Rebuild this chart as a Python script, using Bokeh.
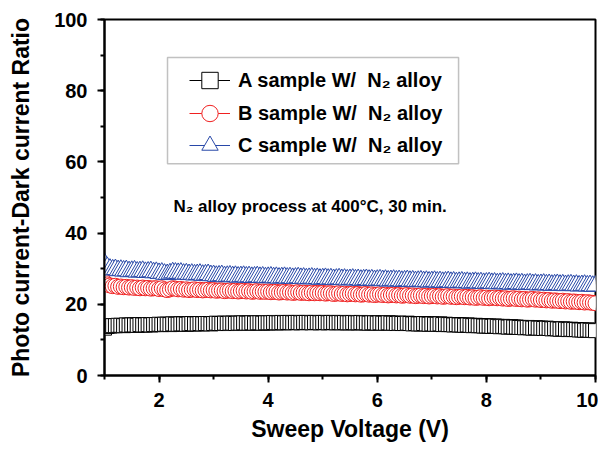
from bokeh.plotting import figure
from bokeh.models import (Range1d, SingleIntervalTicker, Legend, LegendItem,
                          Label, BoxAnnotation)
from bokeh.embed import file_html
from bokeh.resources import INLINE

# ---------------- data ----------------
voltage = [
    1.00, 1.05, 1.10, 1.15, 1.20, 1.25, 1.30, 1.35, 1.40, 1.45, 1.50, 1.55, 1.60, 1.65, 1.70, 1.75, 1.80, 1.85, 1.90, 1.95,
    2.00, 2.05, 2.10, 2.15, 2.20, 2.25, 2.30, 2.35, 2.40, 2.45, 2.50, 2.55, 2.60, 2.65, 2.70, 2.75, 2.80, 2.85, 2.90, 2.95,
    3.00, 3.05, 3.10, 3.15, 3.20, 3.25, 3.30, 3.35, 3.40, 3.45, 3.50, 3.55, 3.60, 3.65, 3.70, 3.75, 3.80, 3.85, 3.90, 3.95,
    4.00, 4.05, 4.10, 4.15, 4.20, 4.25, 4.30, 4.35, 4.40, 4.45, 4.50, 4.55, 4.60, 4.65, 4.70, 4.75, 4.80, 4.85, 4.90, 4.95,
    5.00, 5.05, 5.10, 5.15, 5.20, 5.25, 5.30, 5.35, 5.40, 5.45, 5.50, 5.55, 5.60, 5.65, 5.70, 5.75, 5.80, 5.85, 5.90, 5.95,
    6.00, 6.05, 6.10, 6.15, 6.20, 6.25, 6.30, 6.35, 6.40, 6.45, 6.50, 6.55, 6.60, 6.65, 6.70, 6.75, 6.80, 6.85, 6.90, 6.95,
    7.00, 7.05, 7.10, 7.15, 7.20, 7.25, 7.30, 7.35, 7.40, 7.45, 7.50, 7.55, 7.60, 7.65, 7.70, 7.75, 7.80, 7.85, 7.90, 7.95,
    8.00, 8.05, 8.10, 8.15, 8.20, 8.25, 8.30, 8.35, 8.40, 8.45, 8.50, 8.55, 8.60, 8.65, 8.70, 8.75, 8.80, 8.85, 8.90, 8.95,
    9.00, 9.05, 9.10, 9.15, 9.20, 9.25, 9.30, 9.35, 9.40, 9.45, 9.50, 9.55, 9.60, 9.65, 9.70, 9.75, 9.80, 9.85, 9.90, 9.95,
    10.00,
]

ratio_a = [
    13.3, 13.8, 13.9, 14.0, 14.0, 14.1, 14.1, 14.0, 14.2, 14.1, 14.2, 14.2, 14.1, 14.3, 14.2, 14.2, 14.3, 14.2, 14.3, 14.3,
    14.4, 14.3, 14.4, 14.4, 14.3, 14.5, 14.4, 14.4, 14.5, 14.5, 14.4, 14.5, 14.6, 14.5, 14.5, 14.6, 14.5, 14.6, 14.6, 14.5,
    14.6, 14.7, 14.6, 14.6, 14.7, 14.6, 14.7, 14.7, 14.6, 14.7, 14.7, 14.8, 14.7, 14.7, 14.8, 14.7, 14.8, 14.8, 14.7, 14.8,
    14.8, 14.8, 14.9, 14.8, 14.8, 14.9, 14.8, 14.9, 14.9, 14.8, 14.9, 14.9, 14.8, 14.9, 14.9, 14.9, 14.8, 14.9, 14.9, 14.8,
    14.9, 14.9, 14.8, 14.9, 14.9, 14.8, 14.9, 14.8, 14.9, 14.8, 14.8, 14.9, 14.8, 14.8, 14.9, 14.8, 14.8, 14.7, 14.8, 14.8,
    14.7, 14.8, 14.7, 14.7, 14.8, 14.7, 14.7, 14.6, 14.7, 14.6, 14.6, 14.7, 14.6, 14.5, 14.6, 14.5, 14.5, 14.6, 14.5, 14.4,
    14.5, 14.4, 14.4, 14.5, 14.3, 14.4, 14.3, 14.3, 14.2, 14.3, 14.2, 14.2, 14.1, 14.2, 14.1, 14.0, 14.1, 14.0, 14.0, 13.9,
    13.9, 13.9, 13.8, 13.9, 13.8, 13.7, 13.8, 13.7, 13.6, 13.7, 13.6, 13.6, 13.5, 13.5, 13.4, 13.5, 13.4, 13.3, 13.4, 13.3,
    13.3, 13.2, 13.3, 13.2, 13.1, 13.2, 13.1, 13.0, 13.1, 13.0, 12.9, 13.0, 12.9, 12.9, 12.8, 12.8, 12.7, 12.8, 12.7, 12.7,
    12.6,
]

ratio_b = [
    26.3, 25.6, 25.3, 25.1, 25.2, 24.9, 25.0, 24.8, 24.9, 24.7, 24.8, 24.6, 24.7, 24.5, 24.7, 24.5, 24.6, 24.4, 24.5, 24.5,
    24.3, 24.5, 24.2, 24.0, 24.2, 24.5, 24.4, 24.2, 24.3, 24.1, 24.2, 24.0, 24.1, 24.2, 24.0, 24.1, 23.9, 24.0, 24.1, 23.9,
    24.0, 23.8, 23.9, 23.9, 23.7, 23.8, 23.9, 23.7, 23.8, 23.6, 23.7, 23.8, 23.6, 23.7, 23.5, 23.6, 23.7, 23.5, 23.6, 23.5,
    23.6, 23.4, 23.5, 23.5, 23.3, 23.4, 23.5, 23.3, 23.4, 23.2, 23.3, 23.4, 23.2, 23.3, 23.2, 23.1, 23.3, 23.1, 23.2, 23.1,
    23.2, 23.0, 23.1, 23.1, 22.9, 23.0, 23.1, 22.9, 23.0, 22.8, 22.9, 23.0, 22.8, 22.9, 22.7, 22.8, 22.9, 22.7, 22.8, 22.6,
    22.7, 22.8, 22.6, 22.7, 22.5, 22.6, 22.7, 22.5, 22.6, 22.4, 22.5, 22.6, 22.4, 22.5, 22.3, 22.4, 22.5, 22.3, 22.4, 22.2,
    22.3, 22.4, 22.2, 22.3, 22.1, 22.2, 22.3, 22.1, 22.2, 22.0, 22.1, 22.2, 22.0, 22.1, 21.9, 22.0, 21.8, 21.9, 22.0, 21.8,
    21.9, 21.7, 21.8, 21.9, 21.7, 21.8, 21.6, 21.7, 21.5, 21.6, 21.7, 21.5, 21.6, 21.4, 21.5, 21.3, 21.4, 21.5, 21.3, 21.4,
    21.2, 21.3, 21.1, 21.2, 21.0, 21.1, 21.0, 20.9, 21.0, 20.8, 20.9, 20.7, 20.8, 20.7, 20.6, 20.7, 20.5, 20.6, 20.5, 20.4,
    20.3,
]

ratio_c = [
    31.5, 30.4, 29.9, 29.7, 29.8, 29.5, 29.6, 29.4, 29.5, 29.2, 29.3, 29.4, 29.1, 29.2, 29.3, 29.0, 29.1, 29.2, 28.9, 29.0,
    28.7, 28.8, 28.5, 28.4, 28.6, 28.9, 28.8, 28.7, 28.8, 28.5, 28.6, 28.4, 28.5, 28.3, 28.4, 28.5, 28.2, 28.3, 28.4, 28.1,
    28.1, 27.9, 28.0, 28.1, 27.8, 27.9, 28.0, 27.8, 27.9, 27.7, 27.8, 27.9, 27.7, 27.8, 27.6, 27.7, 27.8, 27.6, 27.7, 27.5,
    27.6, 27.7, 27.5, 27.6, 27.4, 27.5, 27.6, 27.4, 27.5, 27.3, 27.4, 27.5, 27.3, 27.4, 27.2, 27.3, 27.4, 27.2, 27.3, 27.1,
    27.2, 27.3, 27.1, 27.2, 27.0, 27.1, 27.2, 27.0, 27.1, 26.9, 27.0, 27.1, 26.9, 27.0, 26.8, 26.9, 27.0, 26.8, 26.9, 26.7,
    26.8, 26.9, 26.7, 26.8, 26.6, 26.7, 26.8, 26.6, 26.7, 26.5, 26.6, 26.7, 26.5, 26.6, 26.4, 26.5, 26.6, 26.4, 26.5, 26.3,
    26.4, 26.5, 26.3, 26.4, 26.2, 26.3, 26.4, 26.2, 26.3, 26.1, 26.2, 26.3, 26.1, 26.2, 26.0, 26.1, 26.2, 26.0, 26.1, 25.9,
    26.0, 26.1, 25.9, 26.0, 25.8, 25.9, 26.0, 25.8, 25.9, 25.7, 25.8, 25.9, 25.7, 25.8, 25.6, 25.7, 25.8, 25.6, 25.7, 25.5,
    25.6, 25.7, 25.5, 25.6, 25.4, 25.5, 25.6, 25.4, 25.5, 25.3, 25.4, 25.5, 25.3, 25.4, 25.2, 25.3, 25.4, 25.2, 25.3, 25.1,
    25.2,
]

series_labels = ["A sample W/  N\u2082 alloy",
                 "B sample W/  N\u2082 alloy",
                 "C sample W/  N\u2082 alloy"]
annotation_text = "N\u2082 alloy process at 400\u00b0C, 30 min."
x_title = "Sweep Voltage (V)"
y_title = "Photo current-Dark current Ratio"

FONT = "Liberation Sans"
BLACK = "#000000"
RED = "#F02020"
BLUE = "#2848A8"

# ---------------- figure ----------------
p = figure(width=598, height=447,
           x_range=Range1d(1, 10), y_range=Range1d(0, 100),
           output_backend="svg", toolbar_location=None,
           min_border_left=104, min_border_right=3,
           min_border_top=19, min_border_bottom=72)

p.xgrid.visible = False
p.ygrid.visible = False
p.outline_line_color = "black"
p.outline_line_width = 2
p.outline_line_alpha = 1
p.background_fill_color = "white"
p.border_fill_color = "white"

p.xaxis.ticker = SingleIntervalTicker(interval=2, num_minor_ticks=2)
p.yaxis.ticker = SingleIntervalTicker(interval=20, num_minor_ticks=2)
p.xaxis.axis_label = x_title
p.yaxis.axis_label = y_title

for ax in (p.xaxis[0], p.yaxis[0]):
    ax.axis_line_width = 2
    ax.axis_line_color = "black"
    ax.major_tick_line_width = 2
    ax.minor_tick_line_width = 2
    ax.major_tick_line_color = "black"
    ax.minor_tick_line_color = "black"
    ax.major_tick_in = 0
    ax.major_tick_out = 7
    ax.minor_tick_in = 0
    ax.minor_tick_out = 4
    ax.major_label_text_font = FONT
    ax.major_label_text_font_size = "20px"
    ax.major_label_text_font_style = "bold"
    ax.major_label_text_color = "black"
    ax.axis_label_text_font = FONT
    ax.axis_label_text_font_style = "bold"
    ax.axis_label_text_color = "black"

p.xaxis.major_label_standoff = 10
p.xaxis.axis_label_text_font_size = "23px"
p.xaxis.axis_label_standoff = 6
p.yaxis.major_label_standoff = 10
p.yaxis.axis_label_text_font_size = "23px"
p.yaxis.axis_label_standoff = 17

# ---------------- series ----------------
la = p.line(voltage, ratio_a, line_color=BLACK, line_width=1)
sa = p.scatter(voltage, ratio_a, marker="square", size=14,
               fill_color="white", line_color=BLACK, line_width=1)
lb = p.line(voltage, ratio_b, line_color=RED, line_width=1)
sb = p.scatter(voltage, ratio_b, marker="circle", size=15,
               fill_color="white", line_color=RED, line_width=1)
lc = p.line(voltage, ratio_c, line_color=BLUE, line_width=1)
sc = p.scatter(voltage, ratio_c, marker="triangle", size=18,
               fill_color="white", line_color=BLUE, line_width=1)

# ---------------- legend (box + one legend per row) ----------------
box = BoxAnnotation(left=2.155, right=7.49, bottom=59.5, top=89.3,
                    fill_alpha=0, line_color="#333333", line_width=1.5)
p.add_layout(box)

row_offsets = [274, 241, 209]
for label, rends, yoff in zip(series_labels, [[la, sa], [lb, sb], [lc, sc]], row_offsets):
    lg = Legend(items=[LegendItem(label=label, renderers=rends)], location=(85, yoff))
    lg.glyph_width = 41
    lg.glyph_height = 42
    lg.padding = 0
    lg.margin = 0
    lg.spacing = 0
    lg.label_standoff = 8
    lg.label_text_font = FONT
    lg.label_text_font_size = "20px"
    lg.label_text_font_style = "bold"
    lg.label_text_color = "black"
    lg.background_fill_alpha = 0
    lg.border_line_alpha = 0
    p.add_layout(lg)

# ---------------- annotation ----------------
p.add_layout(Label(x=2.265, y=47.5, text=annotation_text,
                   text_font=FONT, text_font_size="17px",
                   text_font_style="bold", text_color="black",
                   text_baseline="alphabetic"))

open("out.html", "w").write(file_html(p, INLINE))
